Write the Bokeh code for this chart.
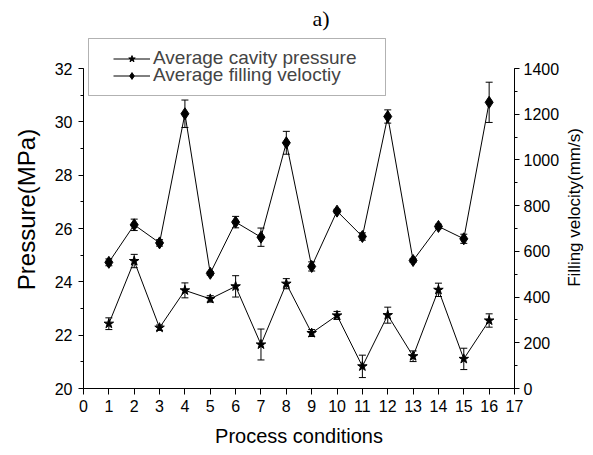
import math
from bokeh.plotting import figure
from bokeh.layouts import row
from bokeh.models import (Range1d, LinearAxis, SingleIntervalTicker, FixedTicker, Whisker,
                          TeeHead, ColumnDataSource, Legend, LegendItem, Title, BoxAnnotation, Label)
from bokeh.embed import file_html
from bokeh.resources import INLINE

# ---- data ----
conditions = [1, 2, 3, 4, 5, 6, 7, 8, 9, 10, 11, 12, 13, 14, 15, 16]
pressure = [22.43, 24.78, 22.28, 23.68, 23.36, 23.83, 21.65, 23.93,
            22.08, 22.74, 20.83, 22.75, 21.21, 23.70, 21.11, 22.55]
pressure_err = [0.22, 0.25, 0.10, 0.28, 0.12, 0.40, 0.58, 0.19,
                0.13, 0.15, 0.42, 0.30, 0.20, 0.25, 0.40, 0.25]
velocity = [552, 716, 637, 1202, 504, 728, 662, 1075,
            534, 776, 665, 1190, 560, 709, 655, 1252]
velocity_err = [15, 25, 14, 60, 8, 25, 40, 50,
                20, 8, 16, 29, 8, 10, 20, 88]
x_ticks = list(range(0, 18))
title_text = "a)"
xlabel = "Process conditions"
ylabel_left = "Pressure(MPa)"
ylabel_right = "Filling velocity(mm/s)"
legend_labels = ["Average cavity pressure", "Average filling velocti\u0079"]

ps = ColumnDataSource(dict(x=conditions, y=pressure,
                           lo=[v - e for v, e in zip(pressure, pressure_err)],
                           hi=[v + e for v, e in zip(pressure, pressure_err)]))
vs = ColumnDataSource(dict(x=conditions, y=velocity,
                           lo=[v - e for v, e in zip(velocity, velocity_err)],
                           hi=[v + e for v, e in zip(velocity, velocity_err)]))

FONT = "Liberation Sans"

# frame spans canvas y 30..388; axes drawn only over 20..32 / 0..1400 (canvas y 68..388)
FRAME_H = 358
AXIS_H = 320
p_top = 20 + 12 * FRAME_H / AXIS_H
v_top = 1400 * FRAME_H / AXIS_H

p = figure(width=562, height=455, output_backend="svg", toolbar_location=None,
           x_range=Range1d(0, 17), y_range=Range1d(20, p_top),
           min_border_left=83, min_border_right=48, min_border_top=30, min_border_bottom=67)
p.extra_y_ranges = {"v": Range1d(0, v_top)}
p.outline_line_color = None
p.grid.visible = False
p.background_fill_color = "white"
p.border_fill_color = "white"

# title "a)"
p.add_layout(Title(text=title_text, align="left", offset=229, standoff=0,
                   text_font="Liberation Serif", text_font_size="22px",
                   text_font_style="normal", text_color="black"), "above")

# axes
xa = p.xaxis[0]
xa.ticker = FixedTicker(ticks=x_ticks)
xa.major_tick_out = 6
xa.major_tick_in = 0
xa.major_label_standoff = 5
xa.axis_label = xlabel
xa.axis_label_standoff = 10
xa.axis_label_text_font_size = "20px"

ya = p.yaxis[0]
ya.bounds = (20, 32)
ya.ticker = SingleIntervalTicker(interval=2, num_minor_ticks=2)
ya.major_tick_out = 5
ya.major_tick_in = 0
ya.minor_tick_out = 3
ya.minor_tick_in = 0
ya.major_label_standoff = 6
ya.axis_label = ylabel_left
ya.axis_label_standoff = 12
ya.axis_label_text_font_size = "24px"

ra = LinearAxis(y_range_name="v", bounds=(0, 1400),
                ticker=SingleIntervalTicker(interval=200, num_minor_ticks=2))
ra.major_tick_out = 5
ra.major_tick_in = 0
ra.minor_tick_out = 3
ra.minor_tick_in = 0
ra.major_label_standoff = 4
p.add_layout(ra, "right")

for ax in [xa, ya, ra]:
    ax.axis_line_color = "black"
    ax.major_tick_line_color = "black"
    ax.minor_tick_line_color = None if ax is xa else "black"
    ax.major_label_text_font = FONT
    ax.major_label_text_font_size = "16px"
    ax.major_label_text_color = "black"
    ax.axis_label_text_font = FONT
    ax.axis_label_text_font_style = "normal"
    ax.axis_label_text_color = "black"

# series
pl = p.line("x", "y", source=ps, line_color="black", line_width=1)
pm = p.scatter("x", "y", source=ps, marker="star", size=10,
               fill_color="black", line_color="black")
p.add_layout(Whisker(source=ps, base="x", lower="lo", upper="hi", dimension="height",
                     line_color="black", line_width=1,
                     upper_head=TeeHead(size=7, line_color="black"),
                     lower_head=TeeHead(size=7, line_color="black")))

vl = p.line("x", "y", source=vs, line_color="black", line_width=1, y_range_name="v")
vm = p.scatter("x", "y", source=vs, marker="diamond", size=12,
               fill_color="black", line_color="black", y_range_name="v")
p.add_layout(Whisker(source=vs, base="x", lower="lo", upper="hi", dimension="height",
                     y_range_name="v", line_color="black", line_width=1,
                     upper_head=TeeHead(size=7, line_color="black"),
                     lower_head=TeeHead(size=7, line_color="black")))

# legend (one row per Legend so the row spacing matches the reference)
common = dict(padding=0, spacing=0, glyph_width=37, glyph_height=17, label_height=17,
              label_standoff=3, label_text_font=FONT, label_text_font_size="19px",
              border_line_color=None, background_fill_alpha=0)
p.add_layout(Legend(items=[LegendItem(label=legend_labels[0], renderers=[pl, pm])],
                    location=(30, 319), **common), "center")
p.add_layout(Legend(items=[LegendItem(label=legend_labels[1], renderers=[vl, vm])],
                    location=(30, 302), **common), "center")

box = BoxAnnotation(left=5, right=302, bottom=293, top=350,
                    left_units="screen", right_units="screen",
                    bottom_units="screen", top_units="screen",
                    fill_color=None, line_color="black", line_width=1)
p.add_layout(box)

# right-hand axis title, reading bottom to top (p2's frame is aligned with p's frame)
p2 = figure(width=31, height=455, output_backend="svg", toolbar_location=None,
            x_axis_type=None, y_axis_type=None, min_border=0,
            x_range=Range1d(0, 1), y_range=Range1d(0, 1))
p2.outline_line_color = None
p2.grid.visible = False
p2.background_fill_color = "white"
p2.border_fill_color = "white"
p2.add_layout(Label(x=12, y=181, x_units="screen", y_units="screen", text=ylabel_right,
                    angle=math.pi / 2, text_font=FONT, text_font_size="17px",
                    text_align="center", text_baseline="middle", text_color="black"))

open("out.html", "w").write(file_html(row(p, p2, spacing=0), INLINE))
